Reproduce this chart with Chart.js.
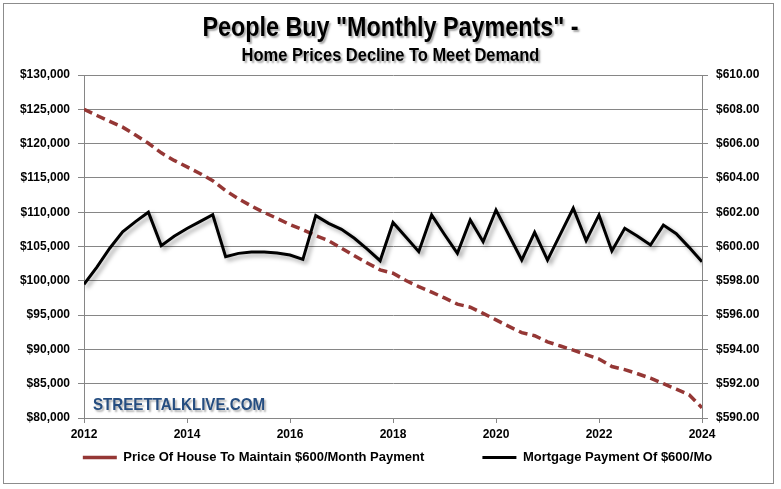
<!DOCTYPE html>
<html>
<head>
<meta charset="utf-8">
<script src="https://cdn.jsdelivr.net/npm/chart.js@4"></script>
<style>
  html, body { margin:0; padding:0; background:#fff; }
  #wrap { position:relative; width:781px; height:489px; overflow:hidden; }
  #frame { position:absolute; left:3px; top:3px; width:771px; height:481px; border:1px solid #8c8c8c; box-sizing:border-box; }
  canvas { position:absolute; left:0; top:0; }
  .t { position:absolute; left:0; width:781px; text-align:center; font-family:"Liberation Sans",Arial,sans-serif; font-weight:bold; color:#000; text-shadow:2px 2px 2px rgba(0,0,0,0.35); white-space:nowrap; transform-origin:390.5px 50%; }
  #title { top:12px; font-size:27px; transform:scaleX(0.864); }
  #sub { top:45px; font-size:18px; transform:scaleX(0.914); }
  #wm { position:absolute; left:93px; top:395px; font-family:"Liberation Sans",Arial,sans-serif; font-weight:bold; font-size:17px; color:#254d80; text-shadow:2px 2px 2px rgba(0,0,0,0.3); transform:scaleX(0.89); transform-origin:0 50%; white-space:nowrap; }
</style>
</head>
<body>
<div id="wrap">
  <div id="frame"></div>
  <canvas id="c" width="781" height="489"></canvas>
  <div class="t" id="title">People Buy "Monthly Payments" -</div>
  <div class="t" id="sub">Home Prices Decline To Meet Demand</div>
  <div id="wm">STREETTALKLIVE.COM</div>
</div>
<script>
// Quarterly dates (decimal years)
const quarters = [
  2012.00,2012.25,2012.50,2012.75,2013.00,2013.25,2013.50,2013.75,
  2014.00,2014.25,2014.50,2014.75,2015.00,2015.25,2015.50,2015.75,
  2016.00,2016.25,2016.50,2016.75,2017.00,2017.25,2017.50,2017.75,
  2018.00,2018.25,2018.50,2018.75,2019.00,2019.25,2019.50,2019.75,
  2020.00,2020.25,2020.50,2020.75,2021.00,2021.25,2021.50,2021.75,
  2022.00,2022.25,2022.50,2022.75,2023.00,2023.25,2023.50,2023.75,
  2024.00
];
// Price of house to maintain $600/month payment (left axis)
const housePrice = [
  125000,124100,123250,122400,121250,120050,118650,117550,
  116600,115650,114600,113150,111950,110900,109950,109100,
  108200,107450,106600,105850,104750,103650,102600,101600,
  101100,100050,99150,98350,97500,96600,96150,95250,
  94300,93350,92450,92000,91100,90500,89900,89250,
  88600,87500,87050,86450,85800,85000,84200,83400,
  81500
];
// Mortgage payment of $600/mo (right axis)
const mortgagePayment = [
  597.8,598.8,599.9,600.85,601.45,602.0,600.05,600.6,
  601.05,601.45,601.85,599.4,599.6,599.68,599.68,599.62,
  599.5,599.25,601.8,601.35,601.0,600.48,599.85,599.17,
  601.4,600.55,599.7,601.84,600.7,599.6,601.55,600.28,
  602.13,600.67,599.21,600.83,599.21,600.72,602.23,600.34,
  601.84,599.74,601.06,600.6,600.09,601.25,600.75,599.95,
  599.11
];
const yearTicks = [2012,2014,2016,2018,2020,2022,2024];
const seriesNames = ["Price Of House To Maintain $600/Month Payment", "Mortgage Payment Of $600/Mo"];

const FONT = "'Liberation Sans',Arial,sans-serif";
const GRID = '#868686';

const shadowPlugin = {
  id: 'lineShadow',
  beforeDatasetDraw(chart, args) {
    const ctx = chart.ctx;
    ctx.save();
    if (args.index === 1) {
      ctx.shadowColor = 'rgba(0,0,0,0.35)';
      ctx.shadowOffsetX = 3; ctx.shadowOffsetY = 3; ctx.shadowBlur = 4;
    }
  },
  afterDatasetDraw(chart) { chart.ctx.restore(); }
};

const LEGEND_GAP = '\u2003\u2003\u2003\u2002\u2009';

new Chart(document.getElementById('c'), {
  type: 'line',
  data: {
    datasets: [
      {
        label: seriesNames[0],
        data: quarters.map((q, i) => ({x: q, y: housePrice[i]})),
        yAxisID: 'y',
        borderColor: '#953735',
        backgroundColor: '#953735',
        borderWidth: 3.5,
        borderDash: [9, 5],
        pointRadius: 0,
        tension: 0,
        order: 1
      },
      {
        label: seriesNames[1],
        data: quarters.map((q, i) => ({x: q, y: mortgagePayment[i]})),
        yAxisID: 'y1',
        borderColor: '#000000',
        backgroundColor: '#000000',
        borderWidth: 3,
        pointRadius: 0,
        tension: 0,
        borderJoinStyle: 'miter',
        order: 0
      }
    ]
  },
  options: {
    responsive: false,
    animation: false,
    devicePixelRatio: 1,
    layout: { padding: { left: 14, right: 0, top: 75, bottom: 15 } },
    plugins: {
      title: { display: false },
      tooltip: { enabled: false },
      legend: {
        position: 'bottom',
        labels: {
          sort: (a, b) => a.datasetIndex - b.datasetIndex,
          generateLabels: (chart) => {
            const items = Chart.defaults.plugins.legend.labels.generateLabels(chart);
            items.forEach(it => { if (it.datasetIndex === 0) it.text = it.text + LEGEND_GAP; });
            return items;
          },
          usePointStyle: true,
          pointStyle: 'line',
          pointStyleWidth: 34,
          boxWidth: 34,
          boxHeight: 12,
          padding: 10,
          color: '#000',
          font: { family: FONT, size: 13, weight: 'bold' }
        }
      }
    },
    scales: {
      x: {
        type: 'linear',
        min: 2012, max: 2024,
        afterBuildTicks: (s) => { s.ticks = yearTicks.map(v => ({value: v})); },
        afterFit: (s) => { s.height = 23; },
        ticks: {
          color: '#000',
          font: { family: FONT, size: 12, weight: 'bold' },
          padding: 4,
          maxRotation: 0,
          callback: (v) => String(v)
        },
        grid: { drawOnChartArea: false, color: GRID, tickLength: 5, tickColor: GRID },
        border: { color: GRID, width: 1 }
      },
      y: {
        position: 'left',
        min: 80000, max: 130000,
        ticks: {
          stepSize: 5000,
          color: '#000',
          font: { family: FONT, size: 12, weight: 'bold' },
          padding: 8,
          callback: (v) => '$' + v.toLocaleString('en-US')
        },
        afterFit: (s) => { s.width = 70; },
        grid: { color: GRID, tickLength: 6, tickColor: GRID, lineWidth: 1 },
        border: { color: GRID, width: 1 }
      },
      y1: {
        position: 'right',
        min: 590, max: 610,
        ticks: {
          stepSize: 2,
          color: '#000',
          font: { family: FONT, size: 12, weight: 'bold' },
          padding: 8,
          callback: (v) => '$' + v.toFixed(2)
        },
        afterFit: (s) => { s.width = 79; },
        grid: { drawOnChartArea: false, tickLength: 6, color: GRID, tickColor: GRID },
        border: { color: GRID, width: 1 }
      }
    }
  },
  plugins: [shadowPlugin]
});
</script>
</body>
</html>
